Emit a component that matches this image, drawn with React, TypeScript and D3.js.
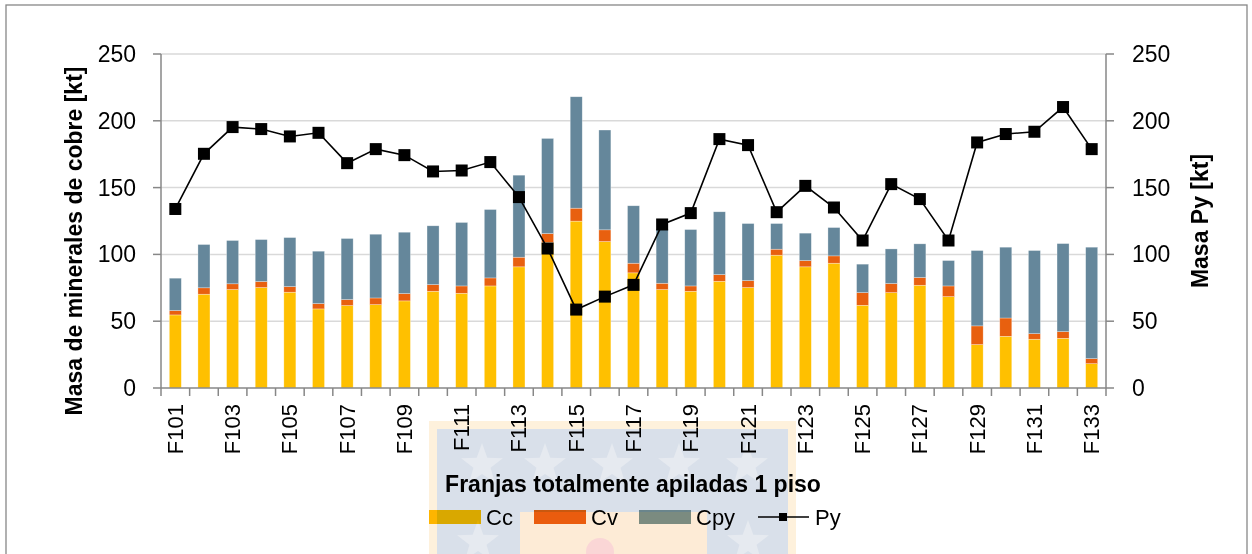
import React from "react";
import * as d3 from "d3";

const categories: string[] = Array.from({ length: 33 }, (_, i) => `F${101 + i}`);
const cc: number[] = [54.7, 70.2, 73.7, 75.2, 71.7, 59.2, 61.7, 62.4, 65.2, 72.4, 70.9, 76.4, 90.7, 109, 124.9, 109.6, 86.2, 73.7, 72.4, 79.9, 75.2, 99.4, 90.7, 93.4, 61.9, 71.4, 76.9, 68.4, 32.5, 38.7, 36.5, 37.2, 18.2];
const cv: number[] = [3.3, 4.8, 4.3, 4.5, 4.2, 4.0, 4.5, 5.0, 5.5, 5.0, 5.5, 6.0, 7.2, 6.6, 9.7, 8.8, 7.2, 4.7, 4.0, 5.0, 5.2, 4.5, 4.7, 5.5, 9.5, 6.8, 5.8, 8.0, 14.0, 13.7, 4.2, 5.0, 3.8];
const cpy: number[] = [24.2, 32.4, 32.4, 31.4, 36.7, 39.2, 45.7, 47.7, 45.9, 44.0, 47.5, 51.2, 61.4, 71.2, 83.4, 74.7, 43.0, 40.6, 42.2, 47.0, 42.7, 19.2, 20.5, 21.2, 21.3, 25.9, 25.2, 19.0, 56.4, 53.0, 62.2, 65.9, 83.4];
const py: number[] = [134, 175.3, 195.3, 193.8, 188.3, 191, 168.3, 178.8, 174.3, 162.1, 162.8, 169.1, 142.9, 104.4, 58.7, 68.4, 77.2, 122.4, 130.9, 186.3, 181.8, 131.6, 151.3, 135.1, 110.4, 152.6, 141.4, 110.4, 183.8, 190.1, 191.8, 210.3, 178.8];
const yTicks: number[] = [0, 50, 100, 150, 200, 250];
const seriesNames: string[] = ["Cc", "Cv", "Cpy"];
const colors: string[] = ["#FFC000", "#E8600F", "#65879B"];
const legendColors: string[] = ["#FFC000", "#EC6410", "#7C9799"];

const W = 1252, H = 554;
const left = 161, right = 1106, top = 54, bottom = 388;
const FONT = "'Liberation Sans', Arial, sans-serif";

function starPath(cx: number, cy: number, R: number, r: number) {
  const pts: string[] = [];
  for (let i = 0; i < 10; i++) {
    const a = -Math.PI / 2 + (i * Math.PI) / 5;
    const rad = i % 2 === 0 ? R : r;
    pts.push(`${cx + rad * Math.cos(a)},${cy + rad * Math.sin(a)}`);
  }
  return `M${pts.join("L")}Z`;
}

export default function App() {
  const x = d3.scaleBand<string>().domain(categories).range([left, right]).paddingInner(0.58).paddingOuter(0.29);
  const y = d3.scaleLinear().domain([0, 250]).range([bottom, top]);
  const y2 = d3.scaleLinear().domain([0, 250]).range([bottom, top]);
  const step = (right - left) / categories.length;

  const stackData = categories.map((c, i) => ({ c, Cc: cc[i], Cv: cv[i], Cpy: cpy[i] }));
  const stacked = d3.stack<any>().keys(seriesNames)(stackData);

  const line = d3
    .line<number>()
    .x((_, i) => (x(categories[i]) as number) + x.bandwidth() / 2)
    .y((d) => y2(d));

  const boundaries = d3.range(categories.length + 1).map((i) => left + i * step);

  const stars: [number, number][] = [
    [482, 465], [545, 465], [612, 465], [679, 465], [747, 465],
    [478, 542], [748, 542],
  ];

  return (
    <svg width={W} height={H} style={{ position: "absolute", left: 0, top: 0, background: "#fff" }} fontFamily={FONT}>
      <rect x={6} y={5} width={1241} height={620} fill="#fff" stroke="#878787" strokeWidth={1.3} />
      {yTicks.filter((t) => t > 0).map((t) => (
        <line key={t} x1={left} x2={right} y1={y(t)} y2={y(t)} stroke="#D9D9D9" strokeWidth={1.5} />
      ))}
      {stacked.map((s, si) => (
        <g key={si} fill={colors[si]}>
          {s.map((d, i) => (
            <rect key={i} x={x(categories[i])} width={x.bandwidth()} y={y(d[1])} height={y(d[0]) - y(d[1])} stroke="#ffffff" strokeOpacity={0.5} strokeWidth={0.6} />
          ))}
        </g>
      ))}
      <line x1={left} x2={left} y1={top} y2={bottom} stroke="#878787" strokeWidth={1.5} />
      <line x1={right} x2={right} y1={top} y2={bottom} stroke="#878787" strokeWidth={1.5} />
      <line x1={left} x2={right} y1={bottom} y2={bottom} stroke="#878787" strokeWidth={1.5} />
      {yTicks.map((t) => (
        <g key={t}>
          <line x1={left - 8} x2={left} y1={y(t)} y2={y(t)} stroke="#878787" strokeWidth={1.5} />
          <text x={136} y={y(t)} textAnchor="end" dominantBaseline="central" fontSize={23} fill="#000">{t}</text>
          <line x1={right} x2={right + 8} y1={y2(t)} y2={y2(t)} stroke="#878787" strokeWidth={1.5} />
          <text x={1132} y={y2(t)} textAnchor="start" dominantBaseline="central" fontSize={23} fill="#000">{t}</text>
        </g>
      ))}
      {boundaries.map((bx, i) => (
        <line key={i} x1={bx} x2={bx} y1={bottom} y2={bottom + 8} stroke="#878787" strokeWidth={1.5} />
      ))}
      {categories.map((c, i) =>
        i % 2 === 0 ? (
          <text key={c} transform={`translate(${(x(c) as number) + x.bandwidth() / 2},404) rotate(-90)`} textAnchor="end" dominantBaseline="central" fontSize={22} fill="#000">{c}</text>
        ) : null
      )}
      <path d={line(py) as string} fill="none" stroke="#000" strokeWidth={1.6} />
      {py.map((v, i) => (
        <rect key={i} x={(x(categories[i]) as number) + x.bandwidth() / 2 - 6} y={y2(v) - 6} width={12} height={12} fill="#000" />
      ))}
      <text transform={`translate(74,241) rotate(-90)`} textAnchor="middle" dominantBaseline="central" fontSize={23} fontWeight="bold" fill="#000">Masa de minerales de cobre [kt]</text>
      <text transform={`translate(1200,221) rotate(-90)`} textAnchor="middle" dominantBaseline="central" fontSize={23} fontWeight="bold" fill="#000">Masa Py [kt]</text>
      <text x={633} y={484} textAnchor="middle" dominantBaseline="central" fontSize={23} fontWeight="bold" fill="#000">Franjas totalmente apiladas 1 piso</text>
      {seriesNames.map((n, i) => {
        const lx = 429 + i * 105;
        return (
          <g key={n}>
            <rect x={lx} y={510} width={52} height={14} fill={legendColors[i]} />
            <text x={lx + 57} y={517} dominantBaseline="central" fontSize={22} fill="#000">{n}</text>
          </g>
        );
      })}
      <line x1={758} x2={809} y1={517} y2={517} stroke="#000" strokeWidth={1.6} />
      <rect x={779} y={513} width={8} height={8} fill="#000" />
      <text x={815} y={517} dominantBaseline="central" fontSize={22} fill="#000">Py</text>
      <g style={{ mixBlendMode: "multiply" }}>
        <rect x={429} y={421} width={367} height={140} fill="#FEF1DC" />
        <rect x={437} y={429} width={351} height={130} fill="#D9E0EA" />
        {stars.map(([sx, sy], i) => (
          <path key={i} d={starPath(sx, sy, 22, 9)} fill="#E6EAF0" />
        ))}
        <rect x={520} y={512} width={187} height={50} fill="#FDEBD6" />
        <ellipse cx={600} cy={552} rx={14} ry={14} fill="#FAD6D6" />
      </g>
    </svg>
  );
}
